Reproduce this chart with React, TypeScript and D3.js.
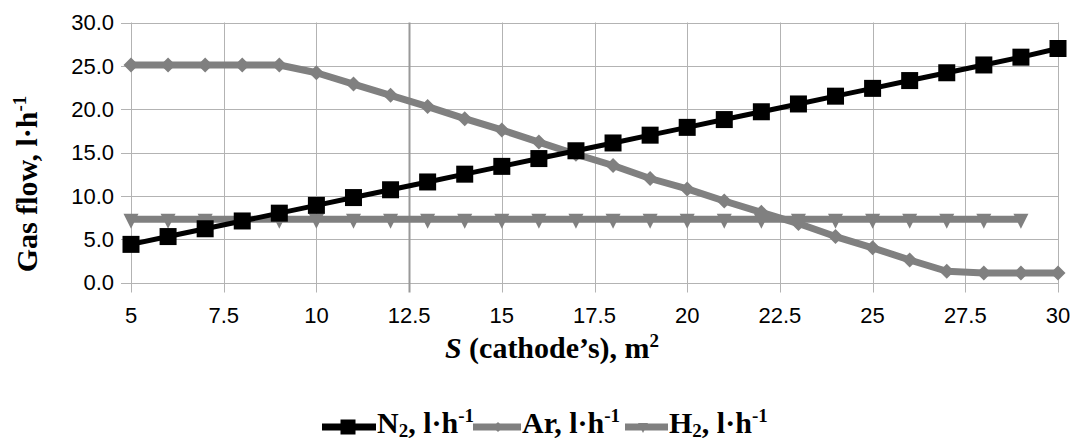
import React from "react";
import * as d3 from "d3";

const xValues = [5, 6, 7, 8, 9, 10, 11, 12, 13, 14, 15, 16, 17, 18, 19, 20, 21, 22, 23, 24, 25, 26, 27, 28, 29, 30];
const n2Values = [4.4, 5.3, 6.2, 7.1, 8.0, 8.9, 9.8, 10.7, 11.6, 12.5, 13.4, 14.3, 15.2, 16.1, 17.0, 17.9, 18.8, 19.7, 20.6, 21.5, 22.4, 23.3, 24.2, 25.1, 26.0, 27.0];
const arValues = [25.1, 25.1, 25.1, 25.1, 25.1, 24.2, 22.9, 21.6, 20.3, 18.9, 17.6, 16.2, 14.8, 13.5, 12.0, 10.8, 9.4, 8.1, 6.8, 5.3, 4.0, 2.6, 1.3, 1.1, 1.1, 1.1];
const h2X = [5, 6, 7, 8, 9, 10, 11, 12, 13, 14, 15, 16, 17, 18, 19, 20, 21, 22, 23, 24, 25, 26, 27, 28, 29];
const h2Values = [7.3, 7.3, 7.3, 7.3, 7.3, 7.3, 7.3, 7.3, 7.3, 7.3, 7.3, 7.3, 7.3, 7.3, 7.3, 7.3, 7.3, 7.3, 7.3, 7.3, 7.3, 7.3, 7.3, 7.3, 7.3];
const xTicks = [5, 7.5, 10, 12.5, 15, 17.5, 20, 22.5, 25, 27.5, 30];
const yTicks = [0, 5, 10, 15, 20, 25, 30];

const W = 1077;
const H = 444;
const left = 131;
const right = 1058;
const top = 22.5;
const bottom = 282.5;

const serif = "'Liberation Serif', 'Times New Roman', serif";
const sans = "'Liberation Sans', Arial, sans-serif";

export default function App() {
  const x = d3.scaleLinear().domain([5, 30]).range([left, right]);
  const y = d3.scaleLinear().domain([0, 30]).range([bottom, top]);
  const line = d3
    .line<[number, number]>()
    .x((d) => x(d[0]))
    .y((d) => y(d[1]));

  const n2 = xValues.map((v, i) => [v, n2Values[i]] as [number, number]);
  const ar = xValues.map((v, i) => [v, arValues[i]] as [number, number]);
  const h2 = h2X.map((v, i) => [v, h2Values[i]] as [number, number]);

  const gray = "#808080";
  const grid = "#b3b3b3";

  const square = (cx: number, cy: number, s: number, key: any, fill: string) => (
    <rect key={key} x={cx - s / 2} y={cy - s / 2} width={s} height={s} fill={fill} />
  );
  const diamond = (cx: number, cy: number, s: number, key: any, fill: string) => (
    <path key={key} d={`M${cx},${cy - s / 2}L${cx + s / 2},${cy}L${cx},${cy + s / 2}L${cx - s / 2},${cy}Z`} fill={fill} />
  );
  const tri = (cx: number, cy: number, s: number, key: any, fill: string) => (
    <path key={key} d={`M${cx - s / 2},${cy - s / 2}L${cx + s / 2},${cy - s / 2}L${cx},${cy + s / 2}Z`} fill={fill} />
  );

  const legendY = 427;
  const legendBase = 433;

  return (
    <svg width={W} height={H} style={{ position: "absolute", left: 0, top: 0, background: "#fff" }}>
      <rect width={W} height={H} fill="#fff" />
      {/* grid */}
      {yTicks.map((t) => (
        <line key={"gy" + t} x1={left - 10} x2={right} y1={Math.round(y(t)) + 0.5} y2={Math.round(y(t)) + 0.5} stroke={grid} strokeWidth={1} />
      ))}
      {xTicks.map((t) => (
        <line
          key={"gx" + t}
          x1={Math.round(x(t)) + 0.5}
          x2={Math.round(x(t)) + 0.5}
          y1={top}
          y2={bottom + 10}
          stroke={t === 12.5 ? "#999" : grid}
          strokeWidth={t === 12.5 ? 2 : 1}
        />
      ))}
      {/* y tick labels */}
      {yTicks.map((t) => (
        <text key={"ly" + t} x={114} y={y(t)} dy="0.36em" textAnchor="end" fontFamily={sans} fontSize={22} fill="#000">
          {t.toFixed(1)}
        </text>
      ))}
      {xTicks.map((t) => (
        <text key={"lx" + t} x={x(t)} y={323} textAnchor="middle" fontFamily={sans} fontSize={22} fill="#000">
          {String(t)}
        </text>
      ))}
      {/* H2 */}
      <path d={line(h2) || ""} fill="none" stroke={gray} strokeWidth={7} />
      {h2.map((d, i) => tri(x(d[0]), y(d[1]) + 2, 15, "h" + i, gray))}
      {/* Ar */}
      <path d={line(ar) || ""} fill="none" stroke={gray} strokeWidth={7} strokeLinejoin="round" />
      {ar.map((d, i) => diamond(x(d[0]), y(d[1]), 15, "a" + i, gray))}
      {/* N2 */}
      <path d={line(n2) || ""} fill="none" stroke="#000" strokeWidth={5} />
      {n2.map((d, i) => square(x(d[0]), y(d[1]), 17, "n" + i, "#000"))}

      {/* axis titles */}
      <text
        transform={`translate(37,184) rotate(-90)`}
        textAnchor="middle"
        fontFamily={serif}
        fontWeight="bold"
        fontSize={30}
        fill="#000"
      >
        Gas flow, l·h<tspan dy="-11" fontSize={19}>-1</tspan>
      </text>
      <text x={552} y={358} textAnchor="middle" fontFamily={serif} fontWeight="bold" fontSize={30} fill="#000">
        <tspan fontStyle="italic">S</tspan> (cathode’s), m<tspan dy="-11" fontSize={19}>2</tspan>
      </text>

      {/* legend */}
      <line x1={322} x2={376} y1={legendY} y2={legendY} stroke="#000" strokeWidth={7} />
      {square(348, legendY, 15, "lg1", "#000")}
      <text x={377} y={legendBase} fontFamily={serif} fontWeight="bold" fontSize={30} fill="#000">
        N<tspan dy="4" fontSize={19}>2</tspan>
        <tspan dy="-4">, l·h</tspan>
        <tspan dy="-11" fontSize={19}>-1</tspan>
      </text>
      <line x1={473} x2={521} y1={legendY} y2={legendY} stroke={gray} strokeWidth={7} />
      {diamond(498, legendY, 10, "lg2", gray)}
      <text x={522} y={legendBase} fontFamily={serif} fontWeight="bold" fontSize={30} fill="#000">
        Ar, l·h<tspan dy="-11" fontSize={19}>-1</tspan>
      </text>
      <line x1={625} x2={668} y1={legendY} y2={legendY} stroke={gray} strokeWidth={7} />
      {tri(643, legendY + 1, 10, "lg3", gray)}
      <text x={669} y={legendBase} fontFamily={serif} fontWeight="bold" fontSize={30} fill="#000">
        H<tspan dy="4" fontSize={19}>2</tspan>
        <tspan dy="-4">, l·h</tspan>
        <tspan dy="-11" fontSize={19}>-1</tspan>
      </text>
    </svg>
  );
}
